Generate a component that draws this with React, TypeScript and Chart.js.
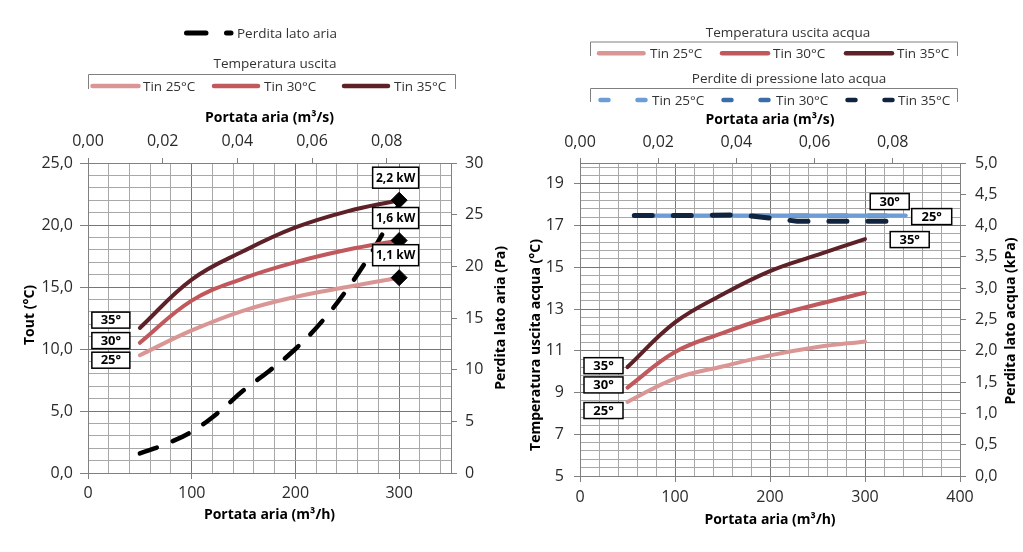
import React, { useEffect, useRef } from 'react';
import { Chart, registerables } from 'chart.js';

Chart.register(...registerables);

const FONT = "'Open Sans', 'DejaVu Sans', sans-serif";

// ---------- Left panel: air side ----------
const airFlowM3h = [50, 100, 150, 200, 250, 300];
const toutTin25 = [9.5, 11.5, 13.1, 14.2, 15.0, 15.75];
const toutTin30 = [10.5, 13.9, 15.7, 17.0, 18.0, 18.75];
const toutTin35 = [11.7, 15.6, 17.9, 19.8, 21.1, 22.0];
const airLossFlowM3h = [50, 75, 100, 125, 150, 175, 200, 225, 250, 275, 300];
const airLossPa = [1.9, 2.8, 4.0, 5.8, 8.0, 9.9, 12.0, 14.6, 17.8, 21.6, 26.0];
const powerLabels = ['1,1 kW', '1,6 kW', '2,2 kW'];

// ---------- Right panel: water side ----------
const waterFlowM3h = [50, 100, 150, 200, 250, 300];
const twTin25 = [8.55, 9.67, 10.25, 10.78, 11.18, 11.45];
const twTin30 = [9.24, 10.94, 11.85, 12.62, 13.23, 13.78];
const twTin35 = [10.22, 12.36, 13.7, 14.82, 15.6, 16.35];
const dpFlowM3h = [50, 100, 150, 200, 250, 300];
const dpTin25 = [4.16, 4.16, 4.16, 4.16, 4.16, 4.16];
const dpTin30 = [4.16, 4.16, 4.16, 4.16, 4.16, 4.16];
const dpTin35 = [4.16, 4.16, 4.17, 4.07, 4.07, 4.07];

// ---------- Labels ----------
const tinNames = ['Tin 25°C', 'Tin 30°C', 'Tin 35°C'];
const tinShort = ['25°', '30°', '35°'];

// ---------- Tick label sets ----------
const airXTicks = [0, 100, 200, 300];
const airYTicks = [0, 5, 10, 15, 20, 25];
const airY2Ticks = [0, 5, 10, 15, 20, 25, 30];
const topXTicks = [0, 0.02, 0.04, 0.06, 0.08];
const waterXTicks = [0, 100, 200, 300, 400];
const waterYTicks = [5, 7, 9, 11, 13, 15, 17, 19];
const waterY2Ticks = [0, 0.5, 1, 1.5, 2, 2.5, 3, 3.5, 4, 4.5, 5];

const RED = ['#D99694', '#C0585C', '#5E2128'];
const BLUE = ['#6C9DD4', '#3B6EA6', '#10243F'];
const MINOR = '#A8A8A8';
const MAJOR = '#767676';
const AXIS = '#808080';
const TICKCOL = '#2A2A2A';

const comma = (v: number, d: number) => v.toFixed(d).replace('.', ',');

function gridAxis(o: any) {
  const vals: number[] = [];
  const n = Math.floor((o.max - o.min) / o.minorStep + 1e-9);
  for (let i = 0; i <= n; i++) vals.push(+(o.min + i * o.minorStep).toFixed(6));
  if (Math.abs(vals[vals.length - 1] - o.max) > 1e-9) vals.push(o.max);
  const isMajor = (v: number) => o.majors.some((m: number) => Math.abs(m - v) < 1e-6);
  return {
    type: 'linear',
    position: o.position,
    min: o.min,
    max: o.max,
    afterBuildTicks: (s: any) => { s.ticks = vals.map((v) => ({ value: v })); },
    afterFit: (s: any) => { if (o.size !== undefined) { if (o.position === 'left' || o.position === 'right') s.width = o.size; else s.height = o.size; } },
    ticks: {
      autoSkip: false, maxRotation: 0, minRotation: 0, padding: o.padding,
      font: { size: 16, family: FONT }, color: TICKCOL,
      callback: (v: number) => (isMajor(v) ? o.fmt(v) : ''),
    },
    grid: {
      display: true, drawOnChartArea: true, drawTicks: true, tickLength: o.tickLength,
      color: (c: any) => (c.tick && isMajor(c.tick.value) ? MAJOR : MINOR),
      lineWidth: 1,
      tickColor: (c: any) => (c.tick && isMajor(c.tick.value) ? AXIS : 'rgba(0,0,0,0)'),
    },
    border: { display: true, color: AXIS, width: 1 },
    title: o.title
      ? { display: true, text: o.title, color: '#000', font: { size: 14, weight: 'bold', family: FONT }, padding: o.titlePadding }
      : { display: false },
  };
}

function secondaryAxis(o: any) {
  return {
    type: 'linear',
    position: o.position,
    min: o.min,
    max: o.max,
    afterBuildTicks: (s: any) => { s.ticks = o.ticks.map((v: number) => ({ value: v })); },
    afterFit: (s: any) => { if (o.position === 'left' || o.position === 'right') s.width = o.size; else s.height = o.size; },
    ticks: {
      autoSkip: false, maxRotation: 0, minRotation: 0, padding: o.padding,
      font: { size: 16, family: FONT }, color: TICKCOL,
      callback: (v: number) => o.fmt(v),
    },
    grid: { display: true, drawOnChartArea: false, drawTicks: true, tickLength: o.tickLength, tickColor: AXIS },
    border: { display: true, color: AXIS, width: 1 },
    title: o.title
      ? { display: true, text: o.title, color: '#000', font: { size: 14, weight: 'bold', family: FONT }, padding: o.titlePadding }
      : { display: false },
  };
}

function boxLabel(ctx: CanvasRenderingContext2D, text: string, cx: number, cy: number, w: number, h: number, fs: number) {
  ctx.save();
  ctx.fillStyle = '#fff';
  ctx.fillRect(cx - w / 2, cy - h / 2, w, h);
  ctx.strokeStyle = '#000';
  ctx.lineWidth = 1.5;
  ctx.strokeRect(cx - w / 2, cy - h / 2, w, h);
  ctx.fillStyle = '#000';
  ctx.font = `bold ${fs}px ${FONT}`;
  ctx.textAlign = 'center';
  ctx.textBaseline = 'middle';
  ctx.fillText(text, cx, cy + 0.5);
  ctx.restore();
}

function vTitle(ctx: CanvasRenderingContext2D, text: string, x: number, y: number) {
  ctx.save();
  ctx.translate(x, y);
  ctx.rotate(-Math.PI / 2);
  ctx.font = `bold 14px ${FONT}`;
  ctx.fillStyle = '#000';
  ctx.textAlign = 'center';
  ctx.textBaseline = 'middle';
  ctx.fillText(text, 0, 0);
  ctx.restore();
}

const pts = (xs: number[], ys: number[], k = 1) => xs.map((x, i) => ({ x: x * k, y: ys[i] }));

function airConfig(): any {
  const last = airFlowM3h.length - 1;
  const curve = (i: number, ys: number[]) => ({
    label: tinNames[i],
    data: pts(airFlowM3h, ys),
    xAxisID: 'x', yAxisID: 'y',
    borderColor: RED[i], borderWidth: 4, borderCapStyle: 'round', borderJoinStyle: 'round',
    tension: 0.4,
    pointStyle: 'rectRot',
    pointRadius: (c: any) => (c.dataIndex === last ? 8 : 0),
    pointBackgroundColor: '#000', pointBorderColor: '#000', pointBorderWidth: 1,
    fill: false,
  });
  const plugin = {
    id: 'airLabels',
    afterDatasetsDraw(chart: any) {
      const ctx = chart.ctx;
      const dy = [5, -2.2, -7.8];
      for (let i = 0; i < 3; i++) {
        const d = chart.getDatasetMeta(i).data;
        const p0 = d[0], pl = d[d.length - 1];
        boxLabel(ctx, powerLabels[i], pl.x - 3.5, pl.y - 22.5, 46, 21, 12);
        boxLabel(ctx, tinShort[i], p0.x - 29, p0.y + dy[i], 38, 16, 13);
      }
      vTitle(ctx, 'Tout (°C)', 30, 315);
      vTitle(ctx, 'Perdita lato aria (Pa)', 501, 318);
    },
  };
  return {
    type: 'line',
    data: {
      datasets: [
        curve(0, toutTin25),
        curve(1, toutTin30),
        curve(2, toutTin35),
        {
          label: 'Perdita lato aria',
          data: pts(airLossFlowM3h, airLossPa),
          xAxisID: 'x', yAxisID: 'y2',
          borderColor: '#000', borderWidth: 4.5, borderDash: [18, 17], borderCapStyle: 'round',
          tension: 0.4, pointRadius: 0, fill: false,
        },
      ],
    },
    options: {
      animation: false, responsive: false, devicePixelRatio: 1,
      layout: { padding: { top: 100, left: 0, right: 0, bottom: 0 } },
      plugins: { legend: { display: false }, tooltip: { enabled: false } },
      scales: {
        x: gridAxis({ position: 'bottom', min: 0, max: 350, minorStep: 20, majors: airXTicks, fmt: (v: number) => String(v), tickLength: 6, padding: 5, size: 79, title: 'Portata aria (m³/h)', titlePadding: { top: 0, bottom: 28.6 } }),
        y: gridAxis({ position: 'left', min: 0, max: 25, minorStep: 1, majors: airYTicks, fmt: (v: number) => comma(v, 1), tickLength: 8, padding: 7, size: 88 }),
        x2: secondaryAxis({ position: 'top', min: 0, max: 350 / 3600, ticks: topXTicks, fmt: (v: number) => comma(v, 2), tickLength: 5, padding: 7, size: 63, title: 'Portata aria (m³/s)', titlePadding: { top: 9.6, bottom: 0 } }),
        y2: secondaryAxis({ position: 'right', min: 0, max: 30, ticks: airY2Ticks, fmt: (v: number) => String(v), tickLength: 6, padding: 8, size: 61 }),
      },
    },
    plugins: [plugin],
  };
}

function waterConfig(): any {
  const curve = (i: number, ys: number[]) => ({
    label: tinNames[i],
    data: pts(waterFlowM3h, ys),
    xAxisID: 'x', yAxisID: 'y',
    borderColor: RED[i], borderWidth: 4, borderCapStyle: 'round', borderJoinStyle: 'round',
    tension: 0.4, pointRadius: 0, fill: false,
  });
  const dp = (i: number, ys: number[], dash: number[], w: number) => ({
    label: 'Δp ' + tinNames[i],
    data: pts(dpFlowM3h, ys, 1 / 3600),
    xAxisID: 'x2', yAxisID: 'y2',
    borderColor: BLUE[i], borderWidth: w, borderDash: dash, borderCapStyle: 'round',
    tension: 0, pointRadius: 0, fill: false,
  });
  const plugin = {
    id: 'waterLabels',
    afterDatasetsDraw(chart: any) {
      const ctx = chart.ctx;
      const dy = [8.6, -2.6, -1.4];
      for (let i = 0; i < 3; i++) {
        const p0 = chart.getDatasetMeta(i).data[0];
        boxLabel(ctx, tinShort[i], p0.x - 24, p0.y + dy[i], 39, 16, 13);
      }
      const d = chart.getDatasetMeta(4).data;
      const pe = d[d.length - 1];
      boxLabel(ctx, tinShort[1], pe.x - 16, pe.y - 14, 39, 16, 13);
      boxLabel(ctx, tinShort[0], pe.x + 26, pe.y + 1, 40, 16, 13);
      boxLabel(ctx, tinShort[2], pe.x + 4, pe.y + 24, 39, 16, 13);
      vTitle(ctx, 'Temperatura uscita acqua (°C)', 24, 345);
      vTitle(ctx, 'Perdita lato acqua (kPa)', 499, 321);
    },
  };
  return {
    type: 'line',
    data: {
      datasets: [
        curve(0, twTin25),
        curve(1, twTin30),
        curve(2, twTin35),
        dp(2, dpTin35, [18, 21], 5),
        dp(0, dpTin25, [], 4),
        dp(1, dpTin30, [18, 21], 4),
      ],
    },
    options: {
      animation: false, responsive: false, devicePixelRatio: 1,
      layout: { padding: { top: 100, left: 0, right: 0, bottom: 0 } },
      plugins: { legend: { display: false }, tooltip: { enabled: false } },
      scales: {
        x: gridAxis({ position: 'bottom', min: 0, max: 400, minorStep: 20, majors: waterXTicks, fmt: (v: number) => String(v), tickLength: 6, padding: 5.4, size: 76, title: 'Portata aria (m³/h)', titlePadding: { top: 0, bottom: 23.6 } }),
        y: gridAxis({ position: 'left', min: 5, max: 20, minorStep: 0.4, majors: waterYTicks, fmt: (v: number) => String(Math.round(v)), tickLength: 6, padding: 10, size: 68 }),
        x2: secondaryAxis({ position: 'top', min: 0, max: 350 / 3600, ticks: topXTicks, fmt: (v: number) => comma(v, 2), tickLength: 5, padding: 6.4, size: 63, title: 'Portata aria (m³/s)', titlePadding: { top: 11.6, bottom: 0 } }),
        y2: secondaryAxis({ position: 'right', min: 0, max: 5, ticks: waterY2Ticks, fmt: (v: number) => comma(v, 1), tickLength: 6, padding: 9, size: 63 }),
      },
    },
    plugins: [plugin],
  };
}

function ChartCanvas({ make, left, width }: { make: () => any; left: number; width: number }) {
  const ref = useRef<HTMLCanvasElement>(null);
  useEffect(() => {
    const chart = new Chart(ref.current as HTMLCanvasElement, make());
    return () => chart.destroy();
  }, []);
  return (
    <canvas
      ref={ref}
      width={width}
      height={552}
      style={{ position: 'absolute', left, top: 0, width, height: 552, display: 'block' }}
    />
  );
}

function Txt({ x, y, text, center }: { x: number; y: number; text: string; center?: boolean }) {
  return (
    <div
      style={{
        position: 'absolute', left: x, top: y - 9, height: 18, lineHeight: '18px',
        font: `13.5px ${FONT}`, color: '#333333', whiteSpace: 'nowrap',
        transform: center ? 'translateX(-50%)' : undefined,
      }}
    >
      {text}
    </div>
  );
}

export default function App() {
  const redLineL = [[92.5, 138.5], [214, 258], [344, 388]];
  const textL = [143, 264, 394];
  const redLineR = [[599, 643.5], [722, 768], [846, 892]];
  const textR = [650, 773, 897];
  const blueLineR = [[600.5, 646.5], [723.5, 769.5], [847.5, 893.5]];
  const textB = [652, 776, 898];
  return (
    <div style={{ position: 'absolute', left: 0, top: 0, width: 1023, height: 552, background: '#fff', overflow: 'hidden' }}>
      <ChartCanvas make={airConfig} left={0} width={512} />
      <ChartCanvas make={waterConfig} left={512} width={511} />
      <svg width={1023} height={110} style={{ position: 'absolute', left: 0, top: 0 }}>
        <line x1={186.5} y1={33} x2={231} y2={33} stroke="#000" strokeWidth={5} strokeLinecap="round" strokeDasharray="19.5 20.5" />
        <path d="M88.5 89 V74.5 H455.5 V89" fill="none" stroke="#808080" strokeWidth={1} />
        {redLineL.map((s, i) => (
          <line key={'l' + i} x1={s[0]} x2={s[1]} y1={86} y2={86} stroke={RED[i]} strokeWidth={4.5} strokeLinecap="round" />
        ))}
        <path d="M590.5 56 V42 H957.5 V56" fill="none" stroke="#808080" strokeWidth={1} />
        {redLineR.map((s, i) => (
          <line key={'r' + i} x1={s[0]} x2={s[1]} y1={53.3} y2={53.3} stroke={RED[i]} strokeWidth={4.5} strokeLinecap="round" />
        ))}
        <path d="M590.5 102 V88.5 H957.5 V102" fill="none" stroke="#808080" strokeWidth={1} />
        {blueLineR.map((s, i) => (
          <line key={'b' + i} x1={s[0]} x2={s[1]} y1={100} y2={100} stroke={BLUE[i]} strokeWidth={4.5} strokeLinecap="round" strokeDasharray="8 29" />
        ))}
      </svg>
      <Txt x={237} y={33} text="Perdita lato aria" />
      <Txt x={275} y={63} text="Temperatura uscita" center />
      {textL.map((x, i) => <Txt key={'tl' + i} x={x} y={86} text={tinNames[i]} />)}
      <Txt x={788} y={31.7} text="Temperatura uscita acqua" center />
      {textR.map((x, i) => <Txt key={'tr' + i} x={x} y={53.3} text={tinNames[i]} />)}
      <Txt x={789} y={77.7} text="Perdite di pressione lato acqua" center />
      {textB.map((x, i) => <Txt key={'tb' + i} x={x} y={100} text={tinNames[i]} />)}
    </div>
  );
}
